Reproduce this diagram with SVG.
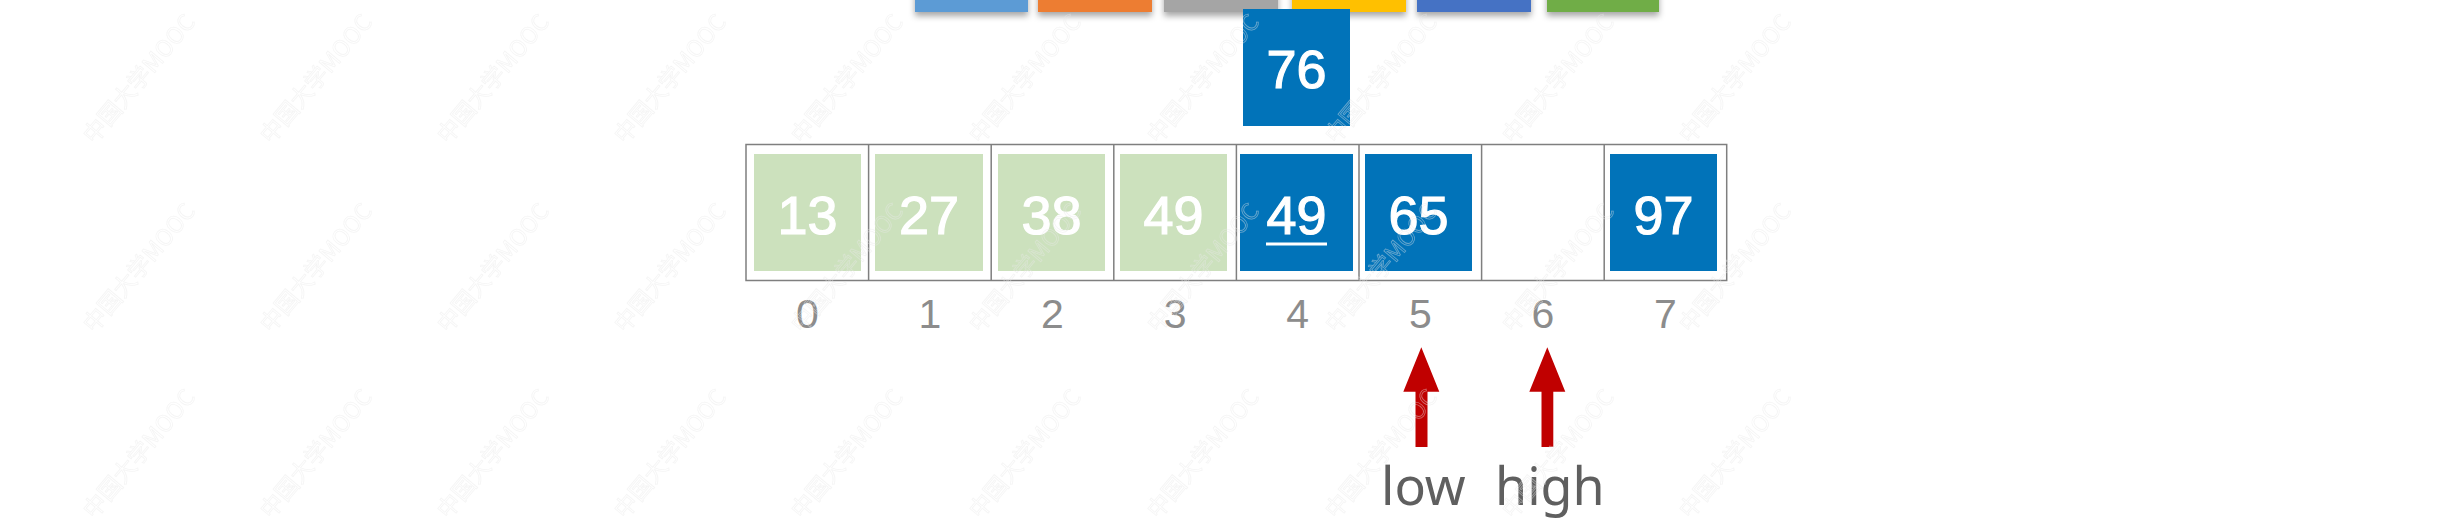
<svg xmlns="http://www.w3.org/2000/svg" width="2462" height="530" viewBox="0 0 2462 530">
<defs>
<style>
.num{font-family:"Liberation Sans",Arial,sans-serif;font-size:54px;fill:#ffffff;stroke:#ffffff;stroke-width:1.2;text-anchor:middle}
.idx{font-family:"Liberation Sans",Arial,sans-serif;font-size:41px;fill:#8C8C8C;text-anchor:middle}
.lbl{font-family:"Noto Sans","Open Sans",sans-serif;font-size:52px;fill:#5F5F5F}
.green{fill:#CCE1BD}
.blue{fill:#0173B9}
.cell{fill:none;stroke:#7F7F7F;stroke-width:1.5}
.wm{font-family:"Noto Sans CJK SC","Noto Sans",sans-serif;font-size:23px;fill:none;stroke:#E8E8E8;stroke-width:0.8;opacity:0.45}
.arrow{fill:#C00000}
</style>
<filter id="sh" x="-10%" y="-50%" width="120%" height="250%">
<feDropShadow dx="0" dy="4" stdDeviation="3" flood-color="#000000" flood-opacity="0.35"/>
</filter>
</defs>
<rect x="0" y="0" width="2462" height="530" fill="#ffffff"/>

<g id="bars" filter="url(#sh)">
<rect x="915" y="-20" width="113" height="32" fill="#5B9BD5"/>
<rect x="1038" y="-20" width="114" height="32" fill="#ED7D31"/>
<rect x="1164" y="-20" width="114" height="32" fill="#A5A5A5"/>
<rect x="1292" y="-20" width="114" height="32" fill="#FFC000"/>
<rect x="1417" y="-20" width="114" height="32" fill="#4472C4"/>
<rect x="1547" y="-20" width="112" height="32" fill="#70AD47"/>
</g>

<g id="pivot">
<rect class="blue" x="1243" y="9" width="107" height="117"/>
<text class="num" x="1296.5" y="88">76</text>
</g>

<g id="array-frame">
<rect class="cell" x="746" y="144.5" width="980.7" height="136"/>
<line class="cell" x1="868.6" y1="144.5" x2="868.6" y2="280.5"/>
<line class="cell" x1="991.2" y1="144.5" x2="991.2" y2="280.5"/>
<line class="cell" x1="1113.8" y1="144.5" x2="1113.8" y2="280.5"/>
<line class="cell" x1="1236.4" y1="144.5" x2="1236.4" y2="280.5"/>
<line class="cell" x1="1359" y1="144.5" x2="1359" y2="280.5"/>
<line class="cell" x1="1481.6" y1="144.5" x2="1481.6" y2="280.5"/>
<line class="cell" x1="1604.2" y1="144.5" x2="1604.2" y2="280.5"/>
</g>

<g id="cell0">
<rect class="green" x="754" y="154" width="107" height="117"/>
<text class="num" x="807.5" y="234">13</text>
<text class="idx" x="807.3" y="328">0</text>
</g>
<g id="cell1">
<rect class="green" x="875" y="154" width="108" height="117"/>
<text class="num" x="929" y="234">27</text>
<text class="idx" x="929.9" y="328">1</text>
</g>
<g id="cell2">
<rect class="green" x="998" y="154" width="107" height="117"/>
<text class="num" x="1051.5" y="234">38</text>
<text class="idx" x="1052.5" y="328">2</text>
</g>
<g id="cell3">
<rect class="green" x="1120" y="154" width="107" height="117"/>
<text class="num" x="1173.5" y="234">49</text>
<text class="idx" x="1175.1" y="328">3</text>
</g>
<g id="cell4">
<rect class="blue" x="1240" y="154" width="113" height="117"/>
<text class="num" x="1296.5" y="234">49</text>
<rect x="1266" y="242.5" width="61" height="3" fill="#ffffff"/>
<text class="idx" x="1297.7" y="328">4</text>
</g>
<g id="cell5">
<rect class="blue" x="1365" y="154" width="107" height="117"/>
<text class="num" x="1418.5" y="234">65</text>
<text class="idx" x="1420.3" y="328">5</text>
</g>
<g id="cell6">
<text class="idx" x="1542.9" y="328">6</text>
</g>
<g id="cell7">
<rect class="blue" x="1610" y="154" width="107" height="117"/>
<text class="num" x="1663.5" y="234">97</text>
<text class="idx" x="1665.5" y="328">7</text>
</g>

<g id="connectors">
<polygon class="arrow" points="1421.3,347.3 1439.3,391.7 1427.5,391.7 1427.5,447 1415.5,447 1415.5,391.7 1403.3,391.7"/>
<polygon class="arrow" points="1547.3,347.3 1565.3,391.7 1553.3,391.7 1553.3,447 1541.5,447 1541.5,391.7 1529.3,391.7"/>
</g>

<g id="label-low">
<text class="lbl" x="1381" y="505">low</text>
</g>
<g id="label-high">
<text class="lbl" x="1495" y="505">high</text>
</g>

<g id="watermark">
<text class="wm" transform="translate(94,145) rotate(-50)">中国大学MOOC</text>
<text class="wm" transform="translate(271,145) rotate(-50)">中国大学MOOC</text>
<text class="wm" transform="translate(448,145) rotate(-50)">中国大学MOOC</text>
<text class="wm" transform="translate(625,145) rotate(-50)">中国大学MOOC</text>
<text class="wm" transform="translate(802,145) rotate(-50)">中国大学MOOC</text>
<text class="wm" transform="translate(980,145) rotate(-50)">中国大学MOOC</text>
<text class="wm" transform="translate(1158,145) rotate(-50)">中国大学MOOC</text>
<text class="wm" transform="translate(1336,145) rotate(-50)">中国大学MOOC</text>
<text class="wm" transform="translate(1513,145) rotate(-50)">中国大学MOOC</text>
<text class="wm" transform="translate(1690,145) rotate(-50)">中国大学MOOC</text>
<text class="wm" transform="translate(94,334) rotate(-50)">中国大学MOOC</text>
<text class="wm" transform="translate(271,334) rotate(-50)">中国大学MOOC</text>
<text class="wm" transform="translate(448,334) rotate(-50)">中国大学MOOC</text>
<text class="wm" transform="translate(625,334) rotate(-50)">中国大学MOOC</text>
<text class="wm" transform="translate(802,334) rotate(-50)">中国大学MOOC</text>
<text class="wm" transform="translate(980,334) rotate(-50)">中国大学MOOC</text>
<text class="wm" transform="translate(1158,334) rotate(-50)">中国大学MOOC</text>
<text class="wm" transform="translate(1336,334) rotate(-50)">中国大学MOOC</text>
<text class="wm" transform="translate(1513,334) rotate(-50)">中国大学MOOC</text>
<text class="wm" transform="translate(1690,334) rotate(-50)">中国大学MOOC</text>
<text class="wm" transform="translate(94,520) rotate(-50)">中国大学MOOC</text>
<text class="wm" transform="translate(271,520) rotate(-50)">中国大学MOOC</text>
<text class="wm" transform="translate(448,520) rotate(-50)">中国大学MOOC</text>
<text class="wm" transform="translate(625,520) rotate(-50)">中国大学MOOC</text>
<text class="wm" transform="translate(802,520) rotate(-50)">中国大学MOOC</text>
<text class="wm" transform="translate(980,520) rotate(-50)">中国大学MOOC</text>
<text class="wm" transform="translate(1158,520) rotate(-50)">中国大学MOOC</text>
<text class="wm" transform="translate(1336,520) rotate(-50)">中国大学MOOC</text>
<text class="wm" transform="translate(1513,520) rotate(-50)">中国大学MOOC</text>
<text class="wm" transform="translate(1690,520) rotate(-50)">中国大学MOOC</text>
</g>
</svg>
